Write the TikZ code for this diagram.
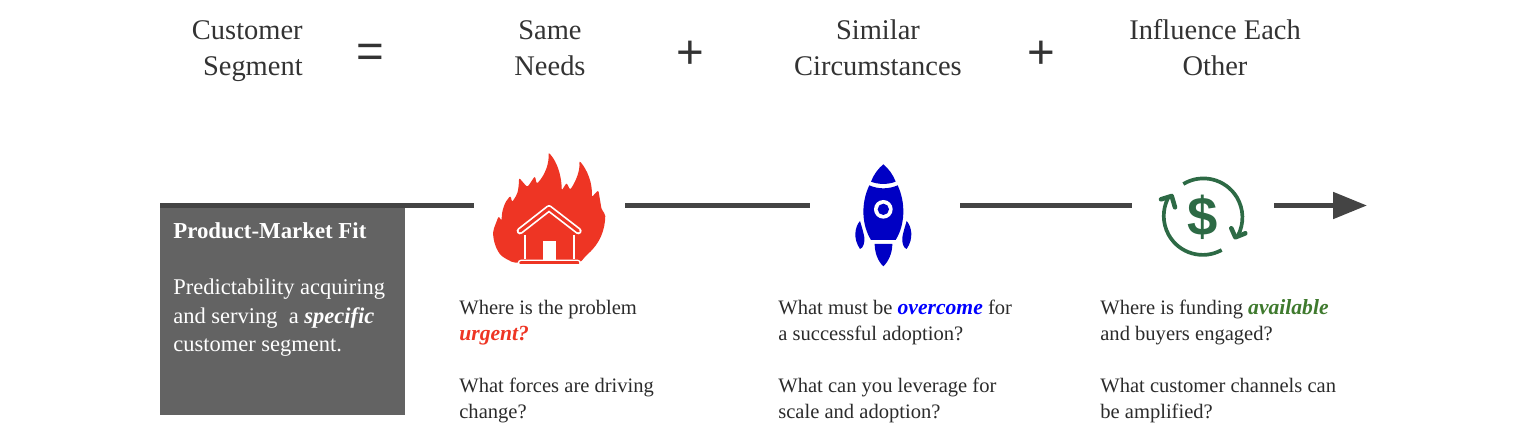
\documentclass[tikz,border=0pt]{standalone}
\usepackage{fontspec}
\setmainfont{Liberation Serif}
\newfontfamily\opsans{Liberation Sans}
\usetikzlibrary{arrows.meta}
\definecolor{linegray}{HTML}{444444}
\definecolor{boxgray}{HTML}{636363}
\definecolor{headink}{HTML}{333333}
\definecolor{bodyink}{HTML}{2B2B2B}
\definecolor{firered}{HTML}{EE3524}
\definecolor{rocketblue}{HTML}{0000C4}
\definecolor{cashgreen}{HTML}{2D6A45}
\definecolor{availgreen}{HTML}{3F7A2E}
\newcommand{\askem}[2]{\textcolor{#1}{\fontsize{12.3}{14.75}\selectfont\textbf{\textit{#2}}}}
\tikzset{
  conn/.style={draw=linegray,line width=2.9pt},
  head/.style={text=headink,inner sep=0pt,align=center,font=\fontsize{16.2}{20.4}\selectfont},
  op/.style={text=headink,inner sep=0pt,font=\opsans\fontsize{27}{27}\selectfont},
  ask/.style={text=bodyink,inner sep=0pt,anchor=north west,align=left,font=\fontsize{11.7}{14.75}\selectfont},
  icon/.style={inner sep=0pt,minimum height=1cm},
  pmtext/.style={text=white,inner sep=0pt,anchor=north west,align=left},
}
\begin{document}
\begin{tikzpicture}[x=0.02cm,y=0.02cm]
    \useasboundingbox (0,0) rectangle (1528,-438);
    % top equation
    \node [head,align=right,anchor=east] (segment) at (303,-51) {Customer\\Segment};
    \node [op] (equals) at (370.5,-56) {=};
    \node [head] (needs) at (550,-48) {Same\\Needs};
    \node [op] (plusa) at (690.5,-55) {+};
    \node [head] (circ) at (878,-48) {Similar\\Circumstances};
    \node [op] (plusb) at (1041,-55) {+};
    \node [head] (influence) at (1215,-48) {Influence Each\\Other};
    % left box
    \node [fill=boxgray,inner sep=0pt,minimum width=4.9cm,minimum height=4.19cm,anchor=north west] (pmfit) at (160,-205.5) {};
    \node [pmtext,font=\fontsize{13}{16}\selectfont\bfseries] (pmtitle) at (173,-222) {Product-Market Fit};
    \node [pmtext,font=\fontsize{12.8}{16.2}\selectfont] (pmbody) at (173,-279) {Predictability acquiring\\and serving\ \ a \textbf{\textit{specific}}\\customer segment.};
    % icon slots on the line
    \node [icon,minimum width=3.02cm] (fire) at (549.5,-205.5) {};
    \node [icon,minimum width=3cm] (rocket) at (885,-205.5) {};
    \node [icon,minimum width=2.84cm] (cycle) at (1203,-205.5) {};
    \coordinate (tip) at (1367,-205.5);
    \draw [conn,line width=3.2pt] (pmfit.north west) -- (pmfit.north east);
    \draw [conn] (pmfit.north east) -- (fire.west);
    \draw [conn] (fire.east) -- (rocket.west);
    \draw [conn] (rocket.east) -- (cycle.west);
    \draw [conn,-{Triangle[length=0.68cm,width=0.52cm]}] (cycle.east) -- (tip);
    % flame and house
    \begin{scope}[shift={(470,-140)},scale=1/3]
        \fill [firered,rounded corners=1.2pt] (130,-368) -- (100,-352) .. controls (80,-335) and (68,-300) .. (70,-270) -- (86,-228) -- (95,-243) .. controls (95,-210) and (105,-185) .. (122,-167) -- (126,-187) -- (140,-165) .. controls (145,-150) and (147,-130) .. (147,-113) -- (172,-142) -- (195,-108) -- (200,-132) .. controls (225,-105) and (238,-70) .. (235,-37) .. controls (262,-65) and (275,-110) .. (275,-152) -- (290,-128) -- (300,-150) .. controls (320,-120) and (330,-90) .. (328,-62) .. controls (352,-90) and (368,-130) .. (365,-172) -- (385,-150) -- (395,-210) -- (406,-222) .. controls (405,-270) and (390,-310) .. (350,-345) -- (330,-368) -- cycle;
        \draw [white,line width=3.8pt,line cap=round,line join=round] (150,-273) -- (237,-205) -- (325,-273);
        \draw [firered,line width=1.8pt,line cap=round,line join=round] (150,-273) -- (237,-205) -- (325,-273);
        \draw [white,line width=1.1pt] (165,-285) -- (165,-358) (312,-285) -- (312,-358);
        \fill [white] (218,-303) rectangle (258,-360);
        \draw [firered,fill=firered,line width=1pt,line cap=round] (150,-369) -- (326,-369);
        \draw [white,line width=0.7pt,rounded corners=1.5pt] (145,-361) rectangle (331,-377);
    \end{scope}
    % rocket
    \begin{scope}[shift={(830,-150)},scale=1/3]
        \fill [rocketblue] (160,-43) .. controls (175,-55) and (190,-75) .. (197,-95) .. controls (175,-104) and (145,-104) .. (123,-95) .. controls (130,-75) and (145,-55) .. (160,-43) -- cycle;
        \fill [rocketblue] (118,-106) .. controls (145,-118) and (175,-118) .. (203,-106) .. controls (228,-160) and (225,-225) .. (197,-270) -- (123,-270) .. controls (95,-225) and (92,-160) .. (118,-106) -- cycle;
        \fill [white] (160,-178) circle (28);
        \fill [rocketblue] (160,-178) circle (17);
        \fill [rocketblue] (90,-213) .. controls (75,-230) and (68,-265) .. (90,-297) .. controls (100,-295) and (105,-275) .. (103,-262) .. controls (100,-245) and (95,-230) .. (90,-213) -- cycle;
        \fill [rocketblue] (230,-213) .. controls (245,-230) and (252,-265) .. (230,-297) .. controls (220,-295) and (215,-275) .. (217,-262) .. controls (220,-245) and (225,-230) .. (230,-213) -- cycle;
        \fill [rocketblue] (134,-282) -- (187,-282) .. controls (187,-310) and (175,-335) .. (160,-349) .. controls (145,-335) and (134,-310) .. (134,-282) -- cycle;
    \end{scope}
    % money cycle
    \begin{scope}[shift={(1130,-160)},scale=1/3]
        \draw [cashgreen,line width=2.1pt] (160,-72) arc (121:-28:117);
        \draw [cashgreen,line width=2.1pt] (275,-270) arc (-61:-207:117);
        \draw [cashgreen,line width=2.6pt,line cap=round,line join=round] (304,-205) -- (316,-232) -- (346,-220);
        \draw [cashgreen,line width=2.6pt,line cap=round,line join=round] (93,-118) -- (125,-108) -- (135,-142);
        \node [inner sep=0pt,text=cashgreen,font=\opsans\bfseries\fontsize{31}{31}\selectfont] (dollar) at (219,-172) {\$};
    \end{scope}
    % questions
    \node [ask] (askfire) at (459,-300) {Where is the problem\\\askem{firered}{urgent?}\\[14.75pt]What forces are driving\\change?};
    \node [ask] (askrocket) at (778,-300) {What must be \askem{blue}{overcome} for\\a successful adoption?\\[14.75pt]What can you leverage for\\scale and adoption?};
    \node [ask] (askcycle) at (1100,-299) {Where is funding \askem{availgreen}{available}\\and buyers engaged?\\[14.75pt]What customer channels can\\be amplified?};
\end{tikzpicture}
\end{document}
